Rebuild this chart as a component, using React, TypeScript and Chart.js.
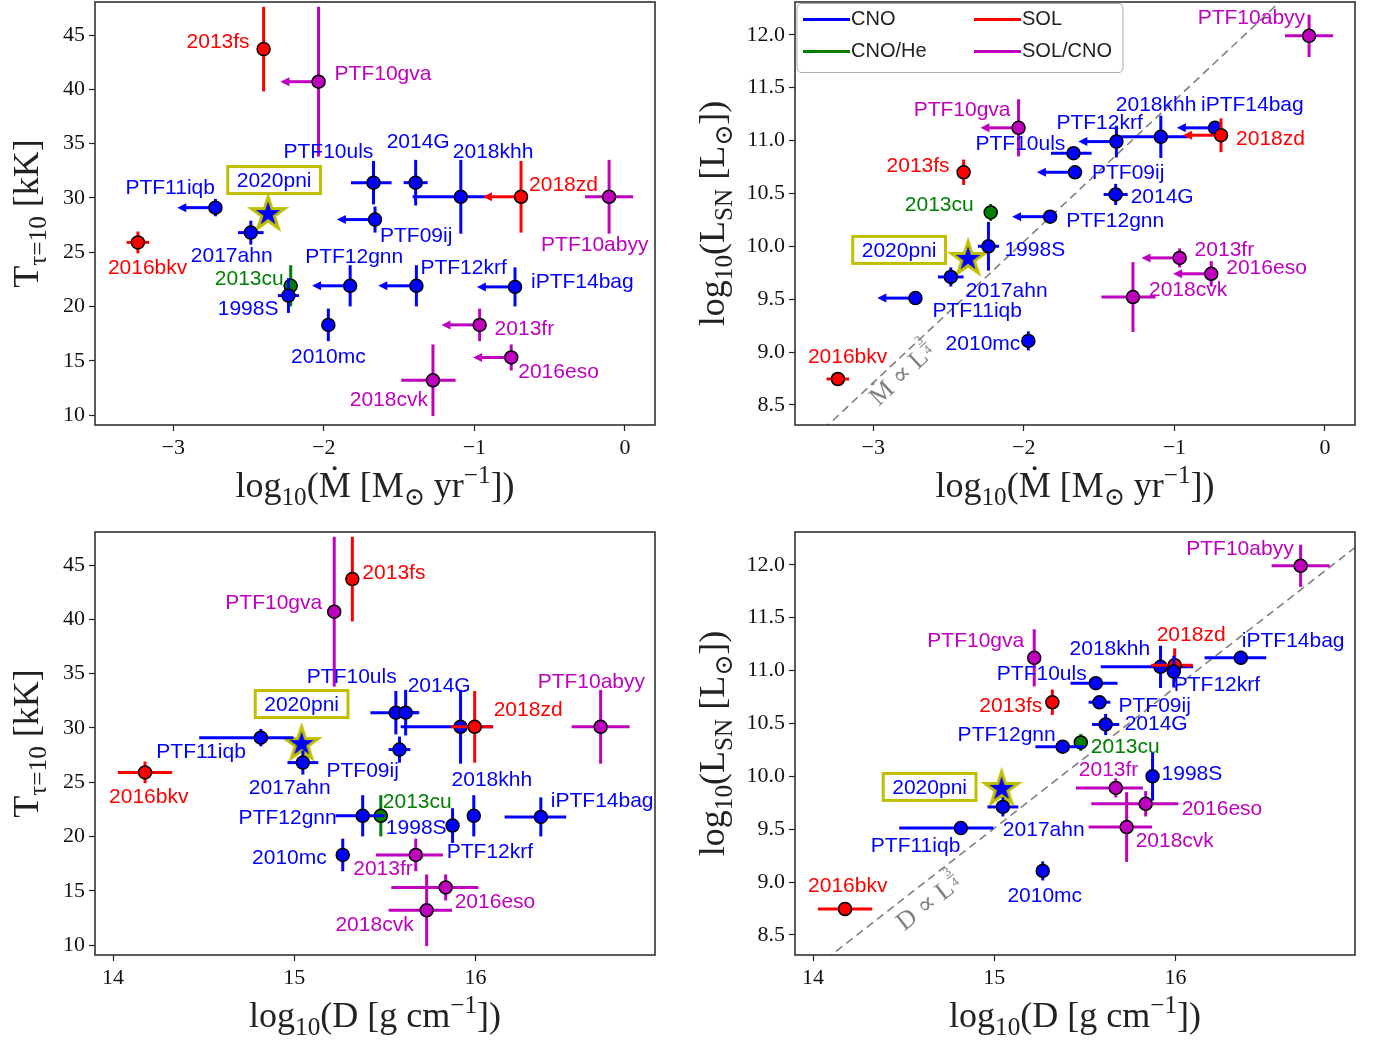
import React, { useEffect, useRef } from "react";
import { Chart, registerables } from "chart.js";

Chart.register(...registerables);

// ---------------- data ----------------
const snNames = ["2013cu", "1998S", "PTF12gnn", "2010mc", "PTF10uls", "2014G", "2018khh", "iPTF14bag", "2018zd", "PTF12krf", "PTF09ij", "PTF11iqb", "2017ahn", "2016bkv", "2013fs", "PTF10gva", "PTF10abyy", "2013fr", "2016eso", "2018cvk"];
const snClass = ["CNO/He", "CNO", "CNO", "CNO", "CNO", "CNO", "CNO", "CNO", "SOL", "CNO", "CNO", "CNO", "CNO", "SOL", "SOL", "SOL/CNO", "SOL/CNO", "SOL/CNO", "SOL/CNO", "SOL/CNO"];
const logMdot = [-2.22, -2.235, -1.825, -1.97, -1.67, -1.39, -1.09, -0.73, -0.69, -1.385, -1.66, -2.72, -2.485, -3.235, -2.4, -2.035, -0.105, -0.965, -0.755, -1.275];
const logMdotErrLo = [0, 0.07, 0, 0, 0.15, 0.08, 0.32, 0, 0, 0, 0, 0, 0.085, 0.075, 0, 0, 0.16, 0, 0, 0.21];
const logMdotErrHi = [0, 0.07, 0, 0, 0.12, 0.08, 0.18, 0, 0, 0, 0, 0, 0.085, 0.075, 0, 0, 0.16, 0, 0, 0.15];
const logMdotUpperLimit = [false, false, true, false, false, false, false, true, true, true, true, true, false, false, false, true, false, true, true, false];
const tempKK = [21.9, 21.0, 21.9, 18.3, 31.4, 31.4, 30.1, 21.8, 30.1, 21.9, 28.0, 29.1, 26.8, 25.9, 43.7, 40.7, 30.1, 18.3, 15.3, 13.2];
const tempErr = [1.9, 1.6, 1.9, 1.5, 2.0, 2.1, 3.4, 1.8, 3.3, 1.9, 1.2, 0.8, 1.1, 1.0, 3.9, 6.9, 3.4, 1.5, 1.2, 3.3];
const logL = [10.32, 10.0, 10.28, 9.105, 10.88, 10.49, 11.035, 11.12, 11.05, 10.99, 10.7, 9.51, 9.71, 8.745, 10.7, 11.12, 11.99, 9.89, 9.74, 9.52];
const logLErr = [0.08, 0.23, 0.06, 0.09, 0.05, 0.1, 0.2, 0.03, 0.16, 0.15, 0.03, 0.02, 0.09, 0.02, 0.12, 0.27, 0.2, 0.09, 0.12, 0.33];
const logD = [15.477, 15.873, 15.377, 15.267, 15.56, 15.614, 15.917, 16.36, 15.995, 15.99, 15.58, 14.815, 15.047, 14.176, 15.32, 15.22, 16.69, 15.67, 15.835, 15.73];
const logDErrLo = [0, 0.03, 0.15, 0, 0.14, 0.075, 0.33, 0.2, 0.13, 0, 0.06, 0.34, 0.085, 0.15, 0, 0, 0.16, 0.22, 0.3, 0.21];
const logDErrHi = [0, 0.03, 0.12, 0, 0.12, 0.075, 0.18, 0.14, 0.1, 0, 0.06, 0.18, 0.085, 0.15, 0, 0, 0.16, 0.15, 0.18, 0.14];

const pniName = "2020pni";
const pniLogMdot = -2.37;
const pniTemp = 28.6;
const pniLogL = 9.89;
const pniLogD = 15.04;

const legendClasses = ["CNO", "SOL", "CNO/He", "SOL/CNO"];

const mdotTicks = [-3, -2, -1, 0];
const dTicks = [14, 15, 16];
const tempTicks = [10, 15, 20, 25, 30, 35, 40, 45];
const lumTicks = [8.5, 9.0, 9.5, 10.0, 10.5, 11.0, 11.5, 12.0];

// reference relations log L = 4/3 log X + c
const REL_SLOPE = 4 / 3;
const MDOT_REL_INTERCEPT = 12.71;
const D_REL_INTERCEPT = -10.49;

// ---------------- styling ----------------
const COLORS: Record<string, string> = { CNO: "#0000ff", SOL: "#ff0000", "CNO/He": "#008000", "SOL/CNO": "#bf00bf" };
const STAR_EDGE = "#bfbf00";
const SERIF = "'Liberation Serif', 'DejaVu Serif', serif";
const SANS = "'Liberation Sans', 'DejaVu Sans', sans-serif";
const LABEL_FONT = `21px ${SANS}`;
const ARROW_LEN = 0.2;

type Seg = { t: string; k?: "sub" | "sup" | "frac"; dot?: boolean; den?: string };
type LabelPos = [number, number, "l" | "r" | "c"];

const titleMdot: Seg[] = [{ t: "log" }, { t: "10", k: "sub" }, { t: "(" }, { t: "M", dot: true }, { t: " [" }, { t: "M" }, { t: "⊙", k: "sub" }, { t: " yr" }, { t: "−1", k: "sup" }, { t: "])" }];
const titleD: Seg[] = [{ t: "log" }, { t: "10", k: "sub" }, { t: "(D [g cm" }, { t: "−1", k: "sup" }, { t: "])" }];
const titleT: Seg[] = [{ t: "T" }, { t: "τ=10", k: "sub" }, { t: " [kK]" }];
const titleL: Seg[] = [{ t: "log" }, { t: "10", k: "sub" }, { t: "(L" }, { t: "SN", k: "sub" }, { t: " [L" }, { t: "⊙", k: "sub" }, { t: "])" }];
const relMdotText: Seg[] = [{ t: "M", dot: true }, { t: " ∝ " }, { t: "L" }, { t: "3", k: "frac", den: "4" }];
const relDText: Seg[] = [{ t: "D ∝ " }, { t: "L" }, { t: "3", k: "frac", den: "4" }];

const labelsTL: Record<string, LabelPos> = {
  "2013cu": [-7, -7, "r"], "1998S": [-10, 14, "r"], PTF12gnn: [-45, -29, "l"], "2010mc": [0, 32, "c"], PTF10uls: [-90, -30, "l"], "2014G": [-29, -40, "l"], "2018khh": [-8, -45, "l"], iPTF14bag: [16, -5, "l"], "2018zd": [8, -12, "l"], PTF12krf: [4, -18, "l"], PTF09ij: [5, 17, "l"], PTF11iqb: [-90, -19, "l"], "2017ahn": [-60, 24, "l"], "2016bkv": [-30, 26, "l"], "2013fs": [-14, -7, "r"], PTF10gva: [16, -7, "l"], PTF10abyy: [-68, 48, "l"], "2013fr": [15, 4, "l"], "2016eso": [7, 15, "l"], "2018cvk": [-5, 20, "r"],
};
const labelsTR: Record<string, LabelPos> = {
  "2013cu": [-17, -7, "r"], "1998S": [16, 4, "l"], PTF12gnn: [16, 5, "l"], "2010mc": [-8, 3, "r"], PTF10uls: [-98, -9, "l"], "2014G": [15, 3, "l"], "2018khh": [-45, -32, "l"], iPTF14bag: [-14, -23, "l"], "2018zd": [15, 4, "l"], PTF12krf: [-60, -18, "l"], PTF09ij: [17, 1, "l"], PTF11iqb: [17, 13, "l"], "2017ahn": [15, 14, "l"], "2016bkv": [-30, -22, "l"], "2013fs": [-14, -6, "r"], PTF10gva: [-8, -18, "r"], PTF10abyy: [-4, -18, "r"], "2013fr": [15, -8, "l"], "2016eso": [15, -6, "l"], "2018cvk": [16, -7, "l"],
};
const labelsBL: Record<string, LabelPos> = {
  "2013cu": [2, -14, "l"], "1998S": [-6, 3, "r"], PTF12gnn: [-26, 2, "r"], "2010mc": [-16, 3, "r"], PTF10uls: [-89, -35, "l"], "2014G": [2, -26, "l"], "2018khh": [-9, 53, "l"], iPTF14bag: [10, -16, "l"], "2018zd": [19, -17, "l"], PTF12krf: [-27, 36, "l"], PTF09ij: [-73, 22, "l"], PTF11iqb: [-15, 15, "r"], "2017ahn": [-54, 26, "l"], "2016bkv": [-36, 25, "l"], "2013fs": [10, -6, "l"], PTF10gva: [-12, -8, "r"], PTF10abyy: [-63, -45, "l"], "2013fr": [-3, 14, "r"], "2016eso": [9, 15, "l"], "2018cvk": [-13, 15, "r"],
};
const labelsBR: Record<string, LabelPos> = {
  "2013cu": [10, 5, "l"], "1998S": [9, -2, "l"], PTF12gnn: [-7, -11, "r"], "2010mc": [2, 25, "c"], PTF10uls: [-99, -9, "l"], "2014G": [19, 0, "l"], "2018khh": [-91, -18, "l"], iPTF14bag: [1, -17, "l"], "2018zd": [-18, -30, "l"], PTF12krf: [0, 14, "l"], PTF09ij: [19, 4, "l"], PTF11iqb: [-90, 18, "l"], "2017ahn": [0, 23, "l"], "2016bkv": [-37, -23, "l"], "2013fs": [-10, 4, "r"], PTF10gva: [-10, -17, "r"], PTF10abyy: [-7, -17, "r"], "2013fr": [-37, -18, "l"], "2016eso": [36, 5, "l"], "2018cvk": [9, 14, "l"],
};

type PanelCfg = {
  left: number; top: number; width: number; height: number;
  area: { l: number; t: number; w: number; h: number };
  xVals: number[]; xLo: number[]; xHi: number[]; xLim: boolean[];
  yVals: number[]; yErr: number[];
  pni: [number, number];
  xRange: [number, number]; yRange: [number, number];
  xTicks: number[]; yTicks: number[];
  xFmt: (v: number) => string; yFmt: (v: number) => string;
  xTitle: Seg[]; yTitle: Seg[]; yTitleDx: number;
  labels: Record<string, LabelPos>; pniBox: [number, number];
  rel?: { intercept: number; text: Seg[]; at: [number, number] };
  legend?: boolean;
};

const noLimits = snNames.map(() => false);
const fmtInt = (v: number) => (v < 0 ? "−" + Math.abs(v) : String(v));
const fmt1 = (v: number) => v.toFixed(1);
const MDOT_RANGE: [number, number] = [-3.52, 0.2];
const D_RANGE: [number, number] = [13.9, 16.99];
const T_RANGE: [number, number] = [9.08, 48.04];
const L_RANGE: [number, number] = [8.31, 12.31];

const panels: PanelCfg[] = [
  {
    left: 0, top: 0, width: 660, height: 520, area: { l: 95, t: 2, w: 560, h: 423 },
    xVals: logMdot, xLo: logMdotErrLo, xHi: logMdotErrHi, xLim: logMdotUpperLimit,
    yVals: tempKK, yErr: tempErr, pni: [pniLogMdot, pniTemp],
    xRange: MDOT_RANGE, yRange: T_RANGE, xTicks: mdotTicks, yTicks: tempTicks, xFmt: fmtInt, yFmt: fmtInt,
    xTitle: titleMdot, yTitle: titleT, yTitleDx: -57, labels: labelsTL, pniBox: [6, -33],
  },
  {
    left: 660, top: 0, width: 720, height: 520, area: { l: 135, t: 2, w: 560, h: 423 },
    xVals: logMdot, xLo: logMdotErrLo, xHi: logMdotErrHi, xLim: logMdotUpperLimit,
    yVals: logL, yErr: logLErr, pni: [pniLogMdot, pniLogL],
    xRange: MDOT_RANGE, yRange: L_RANGE, xTicks: mdotTicks, yTicks: lumTicks, xFmt: fmtInt, yFmt: fmt1,
    xTitle: titleMdot, yTitle: titleL, yTitleDx: -71, labels: labelsTR, pniBox: [-69, -8],
    rel: { intercept: MDOT_REL_INTERCEPT, text: relMdotText, at: [-2.77, 8.74] }, legend: true,
  },
  {
    left: 0, top: 520, width: 660, height: 520, area: { l: 95, t: 12, w: 560, h: 423 },
    xVals: logD, xLo: logDErrLo, xHi: logDErrHi, xLim: noLimits,
    yVals: tempKK, yErr: tempErr, pni: [pniLogD, pniTemp],
    xRange: D_RANGE, yRange: T_RANGE, xTicks: dTicks, yTicks: tempTicks, xFmt: fmtInt, yFmt: fmtInt,
    xTitle: titleD, yTitle: titleT, yTitleDx: -57, labels: labelsBL, pniBox: [0, -39],
  },
  {
    left: 660, top: 520, width: 720, height: 520, area: { l: 135, t: 12, w: 560, h: 423 },
    xVals: logD, xLo: logDErrLo, xHi: logDErrHi, xLim: noLimits,
    yVals: logL, yErr: logLErr, pni: [pniLogD, pniLogL],
    xRange: D_RANGE, yRange: L_RANGE, xTicks: dTicks, yTicks: lumTicks, xFmt: fmtInt, yFmt: fmt1,
    xTitle: titleD, yTitle: titleL, yTitleDx: -71, labels: labelsBR, pniBox: [-72, -1],
    rel: { intercept: D_REL_INTERCEPT, text: relDText, at: [14.667, 8.75] },
  },
];

// ---------------- drawing helpers ----------------
function fontOf(size: number, family: string) {
  return `${size}px ${family}`;
}

function measureSegs(ctx: CanvasRenderingContext2D, segs: Seg[], size: number, family: string) {
  let w = 0;
  for (const s of segs) {
    if (s.k === "frac") {
      ctx.font = fontOf(size * 0.5, family);
      w += Math.max(ctx.measureText(s.t).width, ctx.measureText(s.den || "").width) + size * 0.14;
    } else {
      ctx.font = fontOf(s.k ? size * 0.7 : size, family);
      w += ctx.measureText(s.t).width;
    }
  }
  return w;
}

function drawRich(ctx: CanvasRenderingContext2D, segs: Seg[], x: number, y: number, size: number, family: string, color: string, rot = 0) {
  ctx.save();
  ctx.translate(x, y);
  ctx.rotate(rot);
  ctx.fillStyle = color;
  ctx.strokeStyle = color;
  ctx.textBaseline = "alphabetic";
  ctx.textAlign = "left";
  const total = measureSegs(ctx, segs, size, family);
  let cx = -total / 2;
  for (const s of segs) {
    if (s.k === "frac") {
      const fs = size * 0.5;
      ctx.font = fontOf(fs, family);
      const den = s.den || "";
      const wn = ctx.measureText(s.t).width;
      const wd = ctx.measureText(den).width;
      const w = Math.max(wn, wd);
      const pad = size * 0.07;
      ctx.fillText(s.t, cx + pad + (w - wn) / 2, -size * 0.66);
      ctx.fillText(den, cx + pad + (w - wd) / 2, -size * 0.16);
      ctx.lineWidth = Math.max(1, size * 0.04);
      ctx.beginPath();
      ctx.moveTo(cx + pad - 1, -size * 0.58);
      ctx.lineTo(cx + pad + w + 1, -size * 0.58);
      ctx.stroke();
      cx += w + size * 0.14;
      continue;
    }
    const fs = s.k ? size * 0.7 : size;
    ctx.font = fontOf(fs, family);
    const dy = s.k === "sub" ? size * 0.22 : s.k === "sup" ? -size * 0.4 : 0;
    ctx.fillText(s.t, cx, dy);
    const w = ctx.measureText(s.t).width;
    if (s.dot) {
      ctx.beginPath();
      ctx.arc(cx + w / 2, dy - size * 0.8, size * 0.055, 0, Math.PI * 2);
      ctx.fill();
    }
    cx += w;
  }
  ctx.restore();
}

function makeStar(): HTMLCanvasElement {
  const c = document.createElement("canvas");
  c.width = 44;
  c.height = 44;
  const g = c.getContext("2d")!;
  const R = 17.5;
  const r = R * 0.382;
  g.beginPath();
  for (let k = 0; k < 10; k++) {
    const a = -Math.PI / 2 + (k * Math.PI) / 5;
    const rr = k % 2 === 0 ? R : r;
    g.lineTo(22 + rr * Math.cos(a), 23 + rr * Math.sin(a));
  }
  g.closePath();
  g.fillStyle = "#0000ff";
  g.fill();
  g.lineWidth = 3;
  g.lineJoin = "miter";
  g.strokeStyle = STAR_EDGE;
  g.stroke();
  return c;
}

function buildChart(canvas: HTMLCanvasElement, P: PanelCfg) {
  const star = makeStar();
  const N = snNames.length;
  const datasets: any[] = [
    {
      label: pniName,
      data: [{ x: P.pni[0], y: P.pni[1] }],
      pointStyle: star,
      pointRadius: 18,
      order: 1000,
    },
  ];
  snNames.forEach((n, i) => {
    datasets.push({
      label: n,
      data: [{ x: P.xVals[i], y: P.yVals[i] }],
      pointStyle: "circle",
      pointRadius: 6.5,
      pointBorderWidth: 1.5,
      pointBackgroundColor: COLORS[snClass[i]],
      pointBorderColor: "#000000",
      order: N + 10 - i,
      snIndex: i,
    });
  });

  const errPlugin = {
    id: "errbars",
    beforeDatasetsDraw(chart: any) {
      if (!P.rel) return;
      const { ctx, chartArea: a } = chart;
      const xs = chart.scales.x;
      const ys = chart.scales.y;
      const x0 = P.xRange[0];
      const x1 = P.xRange[1];
      const px0 = xs.getPixelForValue(x0);
      const py0 = ys.getPixelForValue(REL_SLOPE * x0 + P.rel.intercept);
      const px1 = xs.getPixelForValue(x1);
      const py1 = ys.getPixelForValue(REL_SLOPE * x1 + P.rel.intercept);
      ctx.save();
      ctx.beginPath();
      ctx.rect(a.left, a.top, a.right - a.left, a.bottom - a.top);
      ctx.clip();
      ctx.strokeStyle = "#808080";
      ctx.lineWidth = 1.6;
      ctx.setLineDash([8, 5]);
      ctx.beginPath();
      ctx.moveTo(px0, py0);
      ctx.lineTo(px1, py1);
      ctx.stroke();
      ctx.setLineDash([]);
      const ang = Math.atan2(py1 - py0, px1 - px0);
      drawRich(ctx, P.rel.text, xs.getPixelForValue(P.rel.at[0]), ys.getPixelForValue(P.rel.at[1]), 26, SERIF, "#808080", ang);
      ctx.restore();
    },
    beforeDatasetDraw(chart: any, args: any) {
      const ds = chart.data.datasets[args.index];
      if (ds.snIndex === undefined) return;
      const i = ds.snIndex as number;
      const { ctx, chartArea: a } = chart;
      const xs = chart.scales.x;
      const ys = chart.scales.y;
      const col = COLORS[snClass[i]];
      const x = P.xVals[i];
      const y = P.yVals[i];
      const px = xs.getPixelForValue(x);
      const py = ys.getPixelForValue(y);
      ctx.save();
      ctx.beginPath();
      ctx.rect(a.left, a.top, a.right - a.left, a.bottom - a.top);
      ctx.clip();
      ctx.strokeStyle = col;
      ctx.fillStyle = col;
      ctx.lineWidth = 3;
      ctx.lineCap = "butt";
      if (P.yErr[i] > 0) {
        ctx.beginPath();
        ctx.moveTo(px, ys.getPixelForValue(y - P.yErr[i]));
        ctx.lineTo(px, ys.getPixelForValue(y + P.yErr[i]));
        ctx.stroke();
      }
      if (P.xLim[i]) {
        const base = xs.getPixelForValue(x - ARROW_LEN);
        ctx.beginPath();
        ctx.moveTo(px, py);
        ctx.lineTo(base, py);
        ctx.stroke();
        ctx.beginPath();
        ctx.moveTo(base + 1, py - 4.5);
        ctx.lineTo(base - 8, py);
        ctx.lineTo(base + 1, py + 4.5);
        ctx.closePath();
        ctx.fill();
      } else if (P.xLo[i] > 0 || P.xHi[i] > 0) {
        ctx.beginPath();
        ctx.moveTo(xs.getPixelForValue(x - P.xLo[i]), py);
        ctx.lineTo(xs.getPixelForValue(x + P.xHi[i]), py);
        ctx.stroke();
      }
      ctx.restore();
    },
    afterDatasetsDraw(chart: any) {
      const { ctx } = chart;
      const xs = chart.scales.x;
      const ys = chart.scales.y;
      ctx.save();
      ctx.font = LABEL_FONT;
      ctx.textBaseline = "middle";
      snNames.forEach((n, i) => {
        const lp = P.labels[n];
        if (!lp) return;
        const px = xs.getPixelForValue(P.xVals[i]) + lp[0];
        const py = ys.getPixelForValue(P.yVals[i]) + lp[1];
        ctx.textAlign = lp[2] === "l" ? "left" : lp[2] === "r" ? "right" : "center";
        ctx.fillStyle = COLORS[snClass[i]];
        ctx.fillText(n, px, py);
      });
      // 2020pni boxed label
      const bx = xs.getPixelForValue(P.pni[0]) + P.pniBox[0];
      const by = ys.getPixelForValue(P.pni[1]) + P.pniBox[1];
      const tw = ctx.measureText(pniName).width;
      const bw = tw + 18;
      const bh = 27;
      ctx.fillStyle = "#ffffff";
      ctx.fillRect(bx - bw / 2, by - bh / 2, bw, bh);
      ctx.lineWidth = 3;
      ctx.strokeStyle = STAR_EDGE;
      ctx.strokeRect(bx - bw / 2, by - bh / 2, bw, bh);
      ctx.fillStyle = "#0000ff";
      ctx.textAlign = "center";
      ctx.fillText(pniName, bx, by + 1);
      ctx.restore();
    },
    afterDraw(chart: any) {
      const { ctx, chartArea: a } = chart;
      ctx.save();
      ctx.strokeStyle = "#333333";
      ctx.lineWidth = 1.6;
      ctx.strokeRect(a.left, a.top, a.right - a.left, a.bottom - a.top);
      const cxm = (a.left + a.right) / 2;
      const cym = (a.top + a.bottom) / 2;
      drawRich(ctx, P.xTitle, cxm, a.bottom + 72, 36, SERIF, "#222222", 0);
      drawRich(ctx, P.yTitle, a.left + P.yTitleDx, cym, 36, SERIF, "#222222", -Math.PI / 2);
      if (P.legend) {
        const lx = a.left + 2;
        const ly = a.top + 1.5;
        const lw = 326;
        const lh = 69;
        const r = 5;
        ctx.beginPath();
        ctx.moveTo(lx + r, ly);
        ctx.lineTo(lx + lw - r, ly);
        ctx.quadraticCurveTo(lx + lw, ly, lx + lw, ly + r);
        ctx.lineTo(lx + lw, ly + lh - r);
        ctx.quadraticCurveTo(lx + lw, ly + lh, lx + lw - r, ly + lh);
        ctx.lineTo(lx + r, ly + lh);
        ctx.quadraticCurveTo(lx, ly + lh, lx, ly + lh - r);
        ctx.lineTo(lx, ly + r);
        ctx.quadraticCurveTo(lx, ly, lx + r, ly);
        ctx.closePath();
        ctx.fillStyle = "rgba(255,255,255,0.85)";
        ctx.fill();
        ctx.strokeStyle = "#aaaaaa";
        ctx.lineWidth = 1;
        ctx.stroke();
        ctx.font = `20px ${SANS}`;
        ctx.textBaseline = "middle";
        ctx.textAlign = "left";
        legendClasses.forEach((c, k) => {
          const col = k % 2;
          const row = Math.floor(k / 2);
          const x0 = lx + 6 + col * 171;
          const yy = ly + 16 + row * 32;
          ctx.strokeStyle = COLORS[c];
          ctx.lineWidth = 3;
          ctx.beginPath();
          ctx.moveTo(x0, yy);
          ctx.lineTo(x0 + 47, yy);
          ctx.stroke();
          ctx.fillStyle = "#222222";
          ctx.fillText(c, x0 + 48, yy);
        });
      }
      ctx.restore();
    },
  };

  const tickFont = { family: SERIF, size: 22 };
  const areaRight = P.width - (P.area.l + P.area.w);
  const xAxisH = P.height - P.area.t - P.area.h;

  return new Chart(canvas, {
    type: "scatter",
    data: { datasets },
    options: {
      responsive: false,
      animation: false,
      events: [],
      layout: { autoPadding: false, padding: { left: 0, top: P.area.t, right: areaRight, bottom: 0 } },
      plugins: { legend: { display: false }, tooltip: { enabled: false } },
      scales: {
        x: {
          type: "linear",
          position: "bottom",
          min: P.xRange[0],
          max: P.xRange[1],
          border: { display: false },
          grid: { display: true, drawOnChartArea: false, drawTicks: true, tickLength: 6, tickWidth: 1.2, tickColor: "#222222", color: "#222222" },
          ticks: { font: tickFont, color: "#111111", padding: 4, autoSkip: false, maxRotation: 0, callback: (v: any) => P.xFmt(Number(v)) },
          afterBuildTicks: (s: any) => {
            s.ticks = P.xTicks.map((v) => ({ value: v }));
          },
          afterFit: (s: any) => {
            s.height = xAxisH;
            s.paddingLeft = 0;
            s.paddingRight = 0;
            s.paddingTop = 0;
            s.paddingBottom = 0;
          },
        },
        y: {
          type: "linear",
          position: "left",
          min: P.yRange[0],
          max: P.yRange[1],
          border: { display: false },
          grid: { display: true, drawOnChartArea: false, drawTicks: true, tickLength: 6, tickWidth: 1.2, tickColor: "#222222", color: "#222222" },
          ticks: { font: tickFont, color: "#111111", padding: 4, autoSkip: false, callback: (v: any) => P.yFmt(Number(v)) },
          afterBuildTicks: (s: any) => {
            s.ticks = P.yTicks.map((v) => ({ value: v }));
          },
          afterFit: (s: any) => {
            s.width = P.area.l;
            s.paddingLeft = 0;
            s.paddingRight = 0;
            s.paddingTop = 0;
            s.paddingBottom = 0;
          },
        },
      },
    } as any,
    plugins: [errPlugin],
  });
}

function PanelCanvas({ cfg }: { cfg: PanelCfg }) {
  const ref = useRef<HTMLCanvasElement>(null);
  useEffect(() => {
    if (!ref.current) return;
    const ch = buildChart(ref.current, cfg);
    return () => ch.destroy();
  }, [cfg]);
  return (
    <canvas
      ref={ref}
      width={cfg.width}
      height={cfg.height}
      style={{ position: "absolute", left: cfg.left, top: cfg.top, width: cfg.width, height: cfg.height }}
    />
  );
}

export default function App() {
  return (
    <div style={{ position: "absolute", left: 0, top: 0, width: 1380, height: 1040, background: "#ffffff", overflow: "hidden" }}>
      {panels.map((p, k) => (
        <PanelCanvas key={k} cfg={p} />
      ))}
    </div>
  );
}
